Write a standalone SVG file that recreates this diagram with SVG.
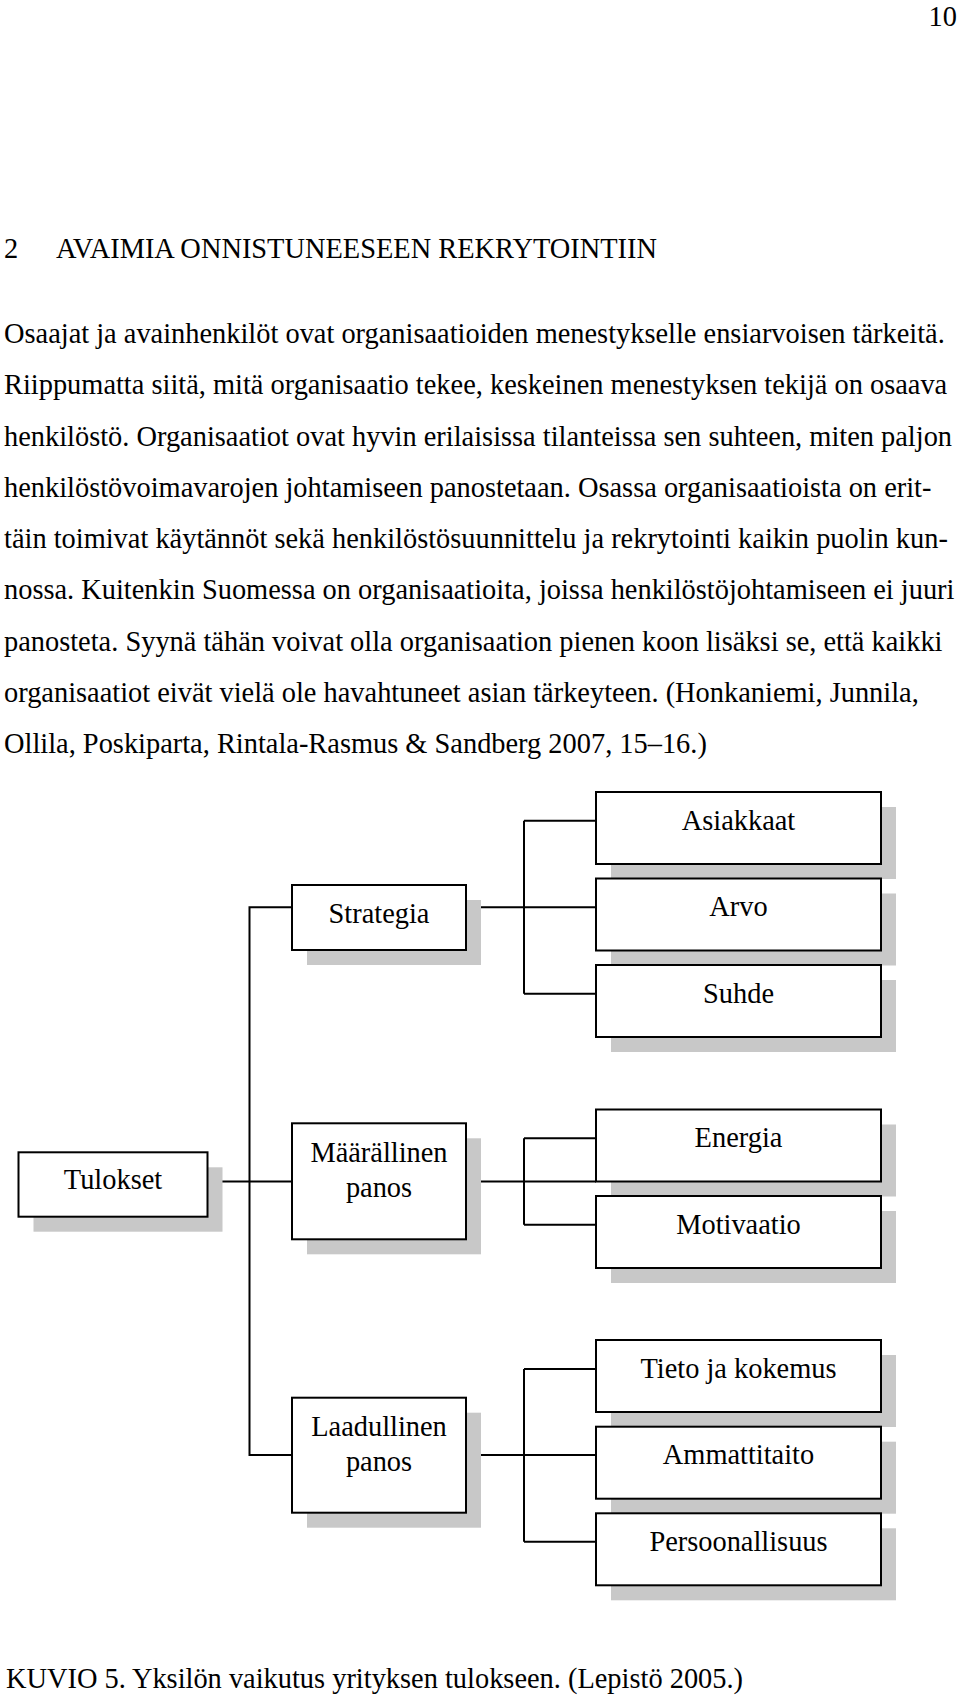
<svg xmlns="http://www.w3.org/2000/svg" width="960" height="1703" viewBox="0 0 960 1703">
<style>
text{font-family:"Liberation Serif","Times New Roman",serif;font-size:28.4px;fill:#000}
.c{text-anchor:middle}
.box{fill:#fff;stroke:#000;stroke-width:2}
.sh{fill:#c8c8c8}
.ln{fill:none;stroke:#000;stroke-width:2}
</style>
<rect width="960" height="1703" fill="#fff"/>
<g id="page-text">
<text x="957" y="25.5" text-anchor="end">10</text>
<text x="4" y="258.3">2</text>
<text x="56" y="258.3">AVAIMIA ONNISTUNEESEEN REKRYTOINTIIN</text>
<text x="4" y="343">Osaajat ja avainhenkilöt ovat organisaatioiden menestykselle ensiarvoisen tärkeitä.</text>
<text x="4" y="394.25">Riippumatta siitä, mitä organisaatio tekee, keskeinen menestyksen tekijä on osaava</text>
<text x="4" y="445.5">henkilöstö. Organisaatiot ovat hyvin erilaisissa tilanteissa sen suhteen, miten paljon</text>
<text x="4" y="496.75">henkilöstövoimavarojen johtamiseen panostetaan. Osassa organisaatioista on erit-</text>
<text x="4" y="548">täin toimivat käytännöt sekä henkilöstösuunnittelu ja rekrytointi kaikin puolin kun-</text>
<text x="4" y="599.25">nossa. Kuitenkin Suomessa on organisaatioita, joissa henkilöstöjohtamiseen ei juuri</text>
<text x="4" y="650.5">panosteta. Syynä tähän voivat olla organisaation pienen koon lisäksi se, että kaikki</text>
<text x="4" y="701.75">organisaatiot eivät vielä ole havahtuneet asian tärkeyteen. (Honkaniemi, Junnila,</text>
<text x="4" y="753">Ollila, Poskiparta, Rintala-Rasmus &amp; Sandberg 2007, 15–16.)</text>
<text x="6" y="1688">KUVIO 5. Yksilön vaikutus yrityksen tulokseen. (Lepistö 2005.)</text>
</g>
<g id="connectors">
<path class="ln" d="M292 907.3H249.5V1455H292"/>
<path class="ln" d="M207.4 1181.5H292"/>
<path class="ln" d="M466 907.3H596M524 820.7V993.7M524 820.7H596M524 993.7H596"/>
<path class="ln" d="M466 1181.5H596M524 1138.2V1224.7M524 1138.2H596M524 1224.7H596"/>
<path class="ln" d="M466 1455H596M524 1369V1541.7M524 1369H596M524 1541.7H596"/>
</g>
<g id="node-tulokset">
<rect class="sh" x="33.5" y="1167.3" width="189" height="64.4"/>
<rect class="box" x="18.5" y="1152.3" width="189" height="64.4"/>
<text class="c" x="113" y="1189.3">Tulokset</text>
</g>
<g id="node-strategia">
<rect class="sh" x="307" y="900" width="174" height="65"/>
<rect class="box" x="292" y="885" width="174" height="65"/>
<text class="c" x="379" y="922.7">Strategia</text>
</g>
<g id="node-maarallinen">
<rect class="sh" x="307" y="1138.3" width="174" height="116"/>
<rect class="box" x="292" y="1123.3" width="174" height="116"/>
<text class="c" x="379" y="1161.7">Määrällinen</text>
<text class="c" x="379" y="1196.7">panos</text>
</g>
<g id="node-laadullinen">
<rect class="sh" x="307" y="1412.7" width="174" height="115"/>
<rect class="box" x="292" y="1397.7" width="174" height="115"/>
<text class="c" x="379" y="1435.7">Laadullinen</text>
<text class="c" x="379" y="1470.7">panos</text>
</g>
<g id="node-asiakkaat">
<rect class="sh" x="611" y="807" width="285" height="72"/>
<rect class="box" x="596" y="792" width="285" height="72"/>
<text class="c" x="738.5" y="829.5">Asiakkaat</text>
</g>
<g id="node-arvo">
<rect class="sh" x="611" y="893.5" width="285" height="72"/>
<rect class="box" x="596" y="878.5" width="285" height="72"/>
<text class="c" x="738.5" y="916">Arvo</text>
</g>
<g id="node-suhde">
<rect class="sh" x="611" y="980" width="285" height="72"/>
<rect class="box" x="596" y="965" width="285" height="72"/>
<text class="c" x="738.5" y="1002.5">Suhde</text>
</g>
<g id="node-energia">
<rect class="sh" x="611" y="1124.5" width="285" height="72"/>
<rect class="box" x="596" y="1109.5" width="285" height="72"/>
<text class="c" x="738.5" y="1147">Energia</text>
</g>
<g id="node-motivaatio">
<rect class="sh" x="611" y="1211" width="285" height="72"/>
<rect class="box" x="596" y="1196" width="285" height="72"/>
<text class="c" x="738.5" y="1233.5">Motivaatio</text>
</g>
<g id="node-tieto">
<rect class="sh" x="611" y="1355" width="285" height="72"/>
<rect class="box" x="596" y="1340" width="285" height="72"/>
<text class="c" x="738.5" y="1377.5">Tieto ja kokemus</text>
</g>
<g id="node-ammattitaito">
<rect class="sh" x="611" y="1441.7" width="285" height="72"/>
<rect class="box" x="596" y="1426.7" width="285" height="72"/>
<text class="c" x="738.5" y="1464.2">Ammattitaito</text>
</g>
<g id="node-persoonallisuus">
<rect class="sh" x="611" y="1528.3" width="285" height="72"/>
<rect class="box" x="596" y="1513.3" width="285" height="72"/>
<text class="c" x="738.5" y="1550.8">Persoonallisuus</text>
</g>
</svg>
